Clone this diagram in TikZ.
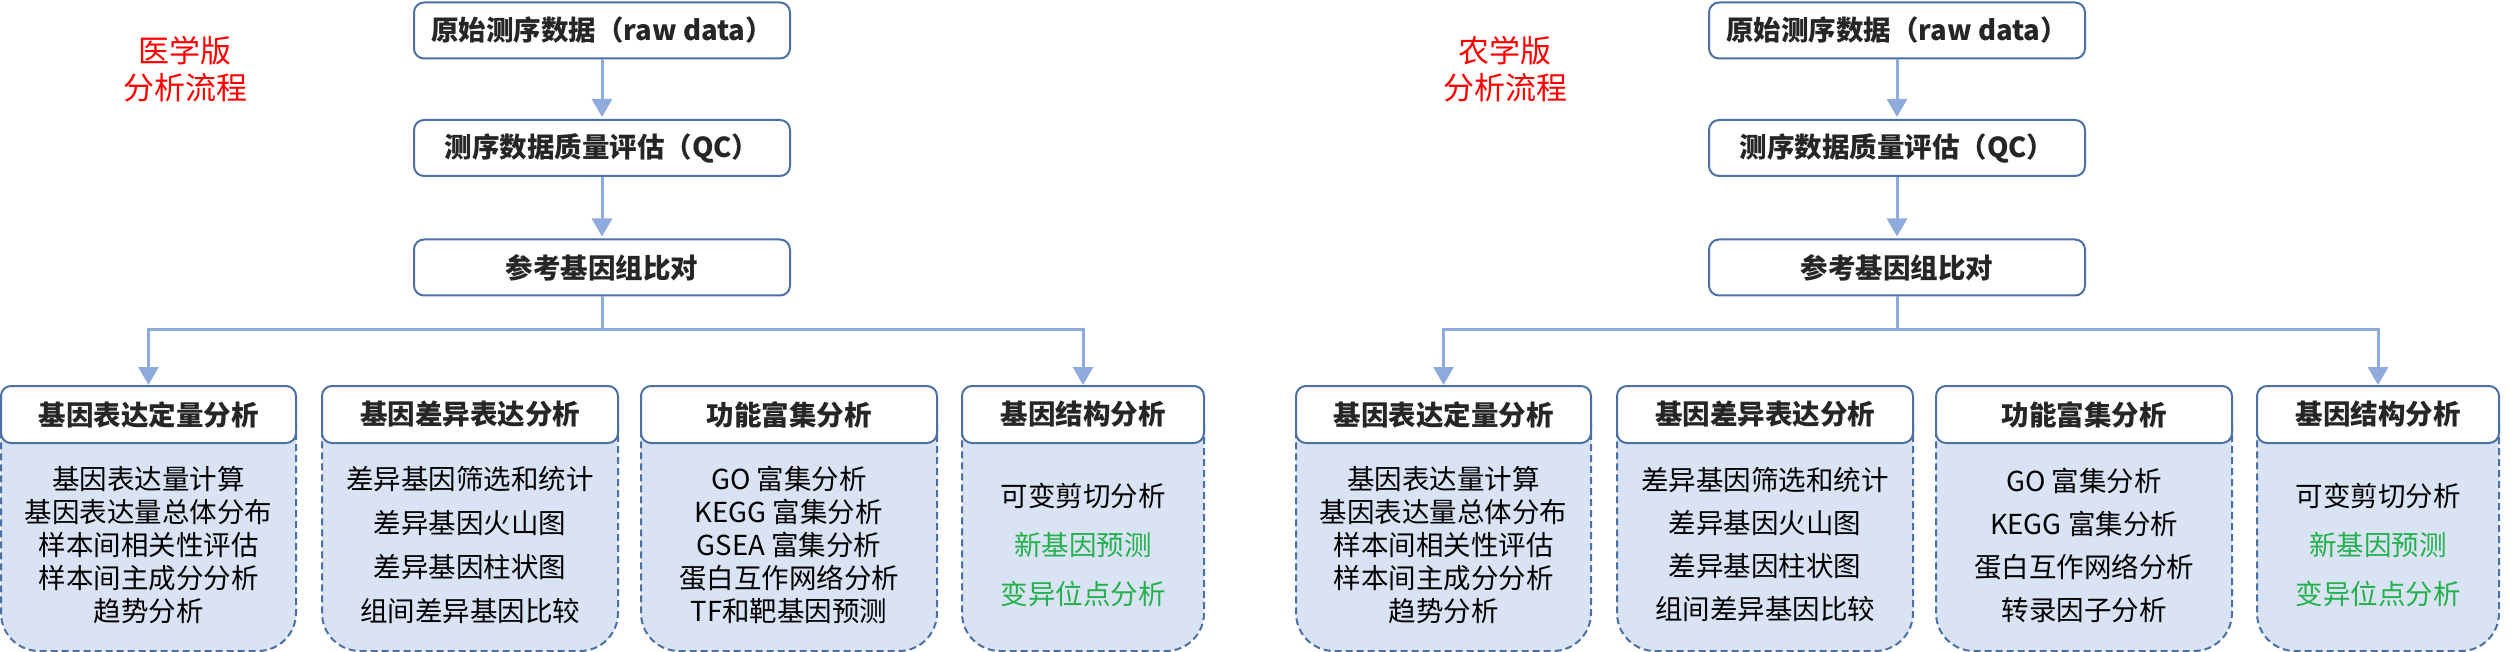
\documentclass[tikz,border=0pt]{standalone}
\usepackage{fontspec}
\setmainfont{Noto Sans CJK SC}
\usetikzlibrary{arrows.meta}
\definecolor{bordc}{RGB}{74,112,165}
\definecolor{linec}{RGB}{143,170,220}
\definecolor{bodyc}{RGB}{218,227,243}
\definecolor{txtc}{RGB}{38,38,38}
\definecolor{greenc}{RGB}{34,177,76}
\definecolor{redc}{RGB}{255,0,0}
\begin{document}
\begin{tikzpicture}[x=1pt,y=-1pt,
 topbox/.style={draw=bordc, line width=2pt, rounded corners=10pt, fill=white, minimum width=376pt, minimum height=56pt, inner sep=0pt, font=\fontsize{27.5}{33}\selectfont\bfseries, text=txtc},
 hdrbox/.style={draw=bordc, line width=2pt, rounded corners=10pt, fill=white, minimum height=57pt, inner sep=0pt, font=\fontsize{27.5}{33}\selectfont\bfseries, text=txtc, anchor=north},
 bodybox/.style={draw=bordc, line width=2pt, dash pattern=on 7pt off 4pt, rounded corners=38pt, fill=bodyc, minimum height=265pt, inner sep=0pt, anchor=north},
 bodytxt/.style={align=center, inner sep=0pt, font=\fontsize{27.5}{#1}\selectfont, text=black},
 conn/.style={draw=linec, line width=3pt},
 arr/.style={conn, -{Triangle[width=20pt,length=18pt]}},
 redlabel/.style={align=center, text=redc, inner sep=0pt, font=\fontsize{31}{37}\selectfont},
]
\useasboundingbox (0,0) rectangle (2514,652);

% ---------------- left half ----------------
\node[redlabel] (Ltitle) at (185,69.5) {医学版\\分析流程};
\node[topbox] (Lraw) at (602,30.5) {原始测序数据（raw data）};
\node[topbox] (Lqc) at (602,148) {测序数据质量评估（QC）};
\node[topbox] (Lmap) at (602,267.5) {参考基因组比对};
\draw[arr, shorten >=2pt] (Lraw) -- (Lqc);
\draw[arr, shorten >=2pt] (Lqc) -- (Lmap);

\node[bodybox, minimum width=295pt] (Lb1) at (148.5,385) {};
\node[hdrbox, minimum width=295pt] (Lh1) at (148.5,385) {基因表达定量分析};
\node[bodytxt=33] (Lt1) at (148.5,545) {基因表达量计算\\基因表达量总体分布\\样本间相关性评估\\样本间主成分分析\\趋势分析};

\node[bodybox, minimum width=296pt] (Lb2) at (470,385) {};
\node[hdrbox, minimum width=296pt] (Lh2) at (470,385) {基因差异表达分析};
\node[bodytxt=44] (Lt2) at (470,545) {差异基因筛选和统计\\差异基因火山图\\差异基因柱状图\\组间差异基因比较};

\node[bodybox, minimum width=296pt] (Lb3) at (789,385) {};
\node[hdrbox, minimum width=296pt] (Lh3) at (789,385) {功能富集分析};
\node[bodytxt=33] (Lt3) at (789,545) {GO 富集分析\\KEGG 富集分析\\GSEA 富集分析\\蛋白互作网络分析\\TF和靶基因预测};

\node[bodybox, minimum width=242pt] (Lb4) at (1083,385) {};
\node[hdrbox, minimum width=242pt] (Lh4) at (1083,385) {基因结构分析};
\node[bodytxt=49] (Lt4) at (1083,545) {可变剪切分析\\\textcolor{greenc}{新基因预测}\\\textcolor{greenc}{变异位点分析}};

\coordinate (Lsplit) at (602,330);
\draw[conn] (Lmap.south) -- (Lsplit);
\draw[arr] (Lsplit) -| (Lh1.north);
\draw[arr] (Lsplit) -| (Lh4.north);

% ---------------- right half ----------------
\node[redlabel] (Rtitle) at (1505,69.5) {农学版\\分析流程};
\node[topbox] (Rraw) at (1897,30.5) {原始测序数据（raw data）};
\node[topbox] (Rqc) at (1897,148) {测序数据质量评估（QC）};
\node[topbox] (Rmap) at (1897,267.5) {参考基因组比对};
\draw[arr, shorten >=2pt] (Rraw) -- (Rqc);
\draw[arr, shorten >=2pt] (Rqc) -- (Rmap);

\node[bodybox, minimum width=295pt] (Rb1) at (1443.5,385) {};
\node[hdrbox, minimum width=295pt] (Rh1) at (1443.5,385) {基因表达定量分析};
\node[bodytxt=33] (Rt1) at (1443.5,545) {基因表达量计算\\基因表达量总体分布\\样本间相关性评估\\样本间主成分分析\\趋势分析};

\node[bodybox, minimum width=296pt] (Rb2) at (1765,385) {};
\node[hdrbox, minimum width=296pt] (Rh2) at (1765,385) {基因差异表达分析};
\node[bodytxt=43] (Rt2) at (1765,545) {差异基因筛选和统计\\差异基因火山图\\差异基因柱状图\\组间差异基因比较};

\node[bodybox, minimum width=296pt] (Rb3) at (2084,385) {};
\node[hdrbox, minimum width=296pt] (Rh3) at (2084,385) {功能富集分析};
\node[bodytxt=43] (Rt3) at (2084,545) {GO 富集分析\\KEGG 富集分析\\蛋白互作网络分析\\转录因子分析};

\node[bodybox, minimum width=242pt] (Rb4) at (2378,385) {};
\node[hdrbox, minimum width=242pt] (Rh4) at (2378,385) {基因结构分析};
\node[bodytxt=49] (Rt4) at (2378,545) {可变剪切分析\\\textcolor{greenc}{新基因预测}\\\textcolor{greenc}{变异位点分析}};

\coordinate (Rsplit) at (1897,330);
\draw[conn] (Rmap.south) -- (Rsplit);
\draw[arr] (Rsplit) -| (Rh1.north);
\draw[arr] (Rsplit) -| (Rh4.north);
\end{tikzpicture}
\end{document}
